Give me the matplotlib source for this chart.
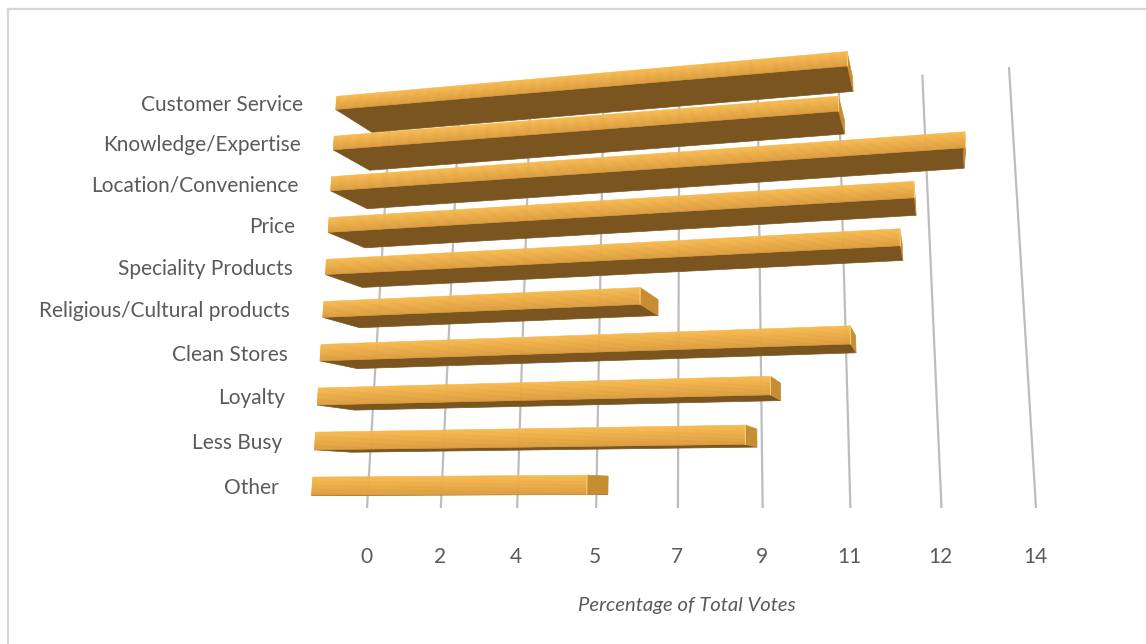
import numpy as np
import matplotlib
matplotlib.use("Agg")
import matplotlib.pyplot as plt
from matplotlib.patches import Polygon

categories = ["Other", "Less Busy", "Loyalty", "Clean Stores", "Religious/Cultural products",
              "Speciality Products", "Price", "Location/Convenience", "Knowledge/Expertise",
              "Customer Service"]
votes = [5.5, 8.65, 9.15, 10.7, 6.55, 11.7, 12.0, 13.0, 10.6, 10.8]
ticks = [0, 1.75, 3.5, 5.25, 7, 8.75, 10.5, 12.25, 14]
tick_labels = ["0", "2", "4", "5", "7", "9", "11", "12", "14"]

W, H = 1146, 644
FONT = ["Lato", "DejaVu Sans"]
TEXT = "#5a5a5a"

# wall plane the gridlines sit on: (value, row) corners -> pixel corners
WALL_SRC = [(0, -0.3), (14, -0.3), (14, 9.26), (0, 9.26)]
WALL_DST = [(367, 508), (1036, 508), (1009, 67), (390, 121)]
VANISH = np.array([940.0, 490.0])
DEPTH = 0.06
BAR_START = -0.45


def homography(src, dst):
    rows = []
    for (x, y), (u, v) in zip(src, dst):
        rows.append([x, y, 1, 0, 0, 0, -u * x, -u * y, -u])
        rows.append([0, 0, 0, x, y, 1, -v * x, -v * y, -v])
    return np.linalg.svd(np.array(rows, float))[2][-1].reshape(3, 3)


WALL = homography(WALL_SRC, WALL_DST)


def back(v, s):
    p = WALL @ np.array([v, s, 1.0])
    return p[:2] / p[2]


def front(v, s):
    # same point pulled toward the viewer, away from the vanishing point
    return VANISH + (back(v, s) - VANISH) / (1 - DEPTH)


def blend(c1, c2, t):
    return np.array(matplotlib.colors.to_rgb(c1)) * (1 - t) + np.array(matplotlib.colors.to_rgb(c2)) * t


fig = plt.figure(figsize=(W / 100, H / 100), dpi=100)
ax = fig.add_axes([0, 0, 1, 1])
ax.set_xlim(0, W)
ax.set_ylim(H, 0)
ax.axis("off")

# frame
ax.plot([8, 8], [H, 9], color="#d6d6d6", lw=1.6, zorder=1)
ax.plot([8, W], [9, 9], color="#d6d6d6", lw=1.6, zorder=1)

# gridlines and value labels
for t, lab in zip(ticks, tick_labels):
    a, b = back(t, -0.3), back(t, 9.26)
    ax.plot([a[0], b[0]], [a[1], b[1]], color="#bdbdbd", lw=1.6, zorder=2, solid_capstyle="butt")
    ax.text(a[0] - 1, 557, lab, ha="center", va="center", fontsize=15, color=TEXT, family=FONT)

ax.text(687, 606, "Percentage of Total Votes", ha="center", va="center", fontsize=14.6,
        color=TEXT, family=FONT, style="italic")

# bars, bottom row first
for i, (name, val) in enumerate(zip(categories, votes)):
    z = 3 + i * 0.01
    thick = 0.40 - 0.008 * i
    under = [front(BAR_START, i), front(val, i), back(val, i), back(BAR_START, i)]
    ax.add_patch(Polygon(under, closed=True, fc="#7a5520", ec="#7a5520", lw=0.5, zorder=z))
    cap = [front(val, i), front(val, i + thick), back(val, i + thick), back(val, i)]
    ax.add_patch(Polygon(cap, closed=True, fc="#c68d32", ec="#c68d32", lw=0.5, zorder=z))
    # front face shaded in thin strips from the lower edge upward
    n = 14
    for k in range(n):
        s0, s1 = i + thick * k / n, i + thick * (k + 1) / n
        col = blend("#dc9c3c", "#f6b84e", k / (n - 1))
        ax.add_patch(Polygon([front(BAR_START, s0), front(val, s0), front(val, s1), front(BAR_START, s1)],
                             closed=True, fc=col, ec=col, lw=0.4, zorder=z + 0.001))
    e0, e1 = front(val, i), front(val, i + thick)
    ax.plot([e0[0], e1[0]], [e0[1], e1[1]], color="#f8d27c", lw=0.7, zorder=z + 0.002)
    # category label lines up with the left end of its bar
    left = front(BAR_START, i + thick / 2)
    ax.text(left[0] - 33, left[1] + 2, name, ha="right", va="center", fontsize=15, color=TEXT, family=FONT)

fig.savefig("out.png", dpi=100, facecolor="white")
